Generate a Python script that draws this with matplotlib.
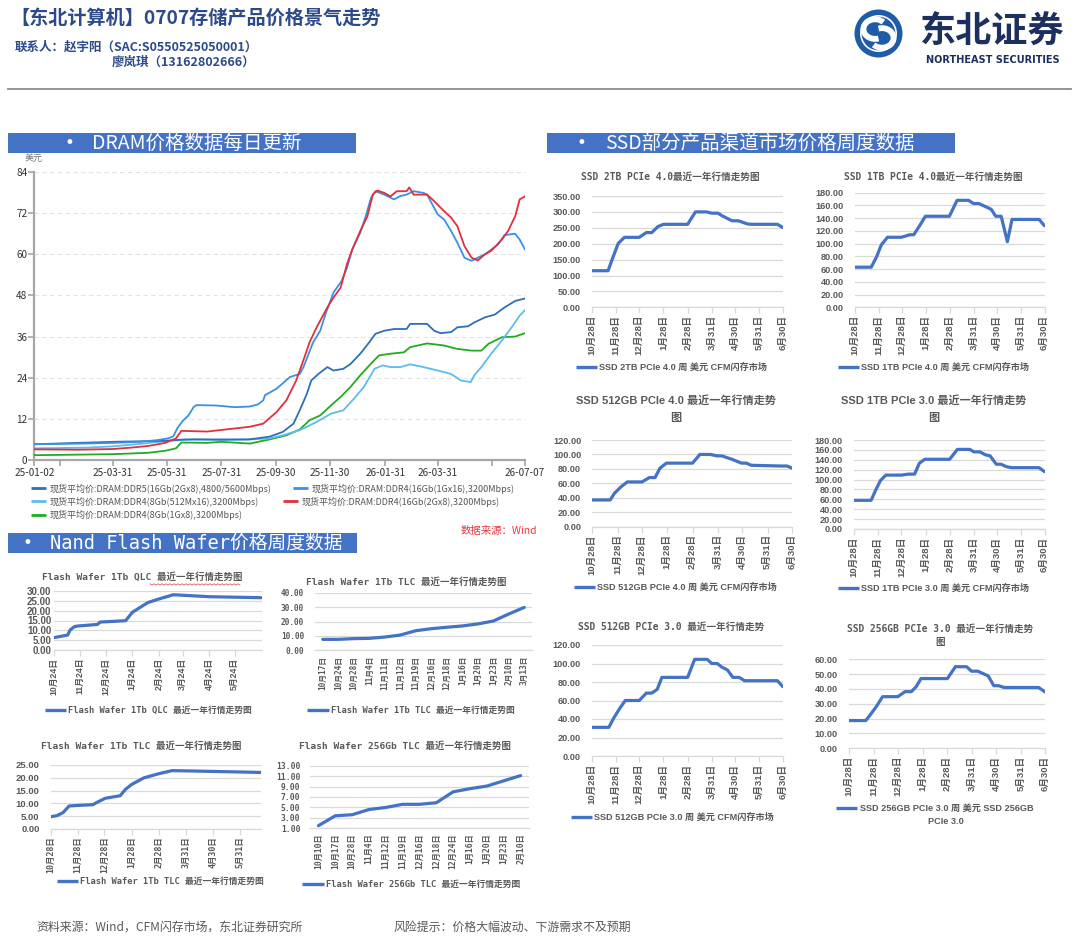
import numpy as np
import matplotlib
matplotlib.use('Agg')
import matplotlib.pyplot as plt
from matplotlib.lines import Line2D
from matplotlib.patches import Rectangle, Circle, Arc

W, H = 1080, 939
SANS = ['Noto Sans CJK SC', 'DejaVu Sans']
ARIAL = ['Liberation Sans', 'Noto Sans CJK SC']
MONO = ['DejaVu Sans Mono', 'Noto Sans CJK SC']
plt.rcParams['font.family'] = SANS
plt.rcParams['axes.unicode_minus'] = False

# ---------------------------------------------------------------- DRAM data
DRAM_LABELS = [
    '现货平均价:DRAM:DDR5(16Gb(2Gx8),4800/5600Mbps)',
    '现货平均价:DRAM:DDR4(16Gb(1Gx16),3200Mbps)',
    '现货平均价:DRAM:DDR4(8Gb(512Mx16),3200Mbps)',
    '现货平均价:DRAM:DDR4(16Gb(2Gx8),3200Mbps)',
    '现货平均价:DRAM:DDR4(8Gb(1Gx8),3200Mbps)',
]
DDR5_DATES = ['2025-01-02', '2025-03-31', '2025-05-29', '2025-06-20', '2025-07-31', '2025-08-31',
              '2025-09-23', '2025-10-08', '2025-10-20', '2025-10-27', '2025-11-04', '2025-11-09',
              '2025-11-17', '2025-11-27', '2025-12-04', '2025-12-15', '2025-12-23', '2026-01-03',
              '2026-01-13', '2026-01-20', '2026-01-30', '2026-02-10', '2026-02-24', '2026-02-28',
              '2026-03-19', '2026-03-27', '2026-04-03', '2026-04-15', '2026-04-22', '2026-05-04',
              '2026-05-11', '2026-05-23', '2026-06-03', '2026-06-14', '2026-06-26', '2026-07-07']
DDR5_VALS = [4.6, 5.3, 5.6, 6.0, 6.0, 6.0, 6.8, 8.2, 10.6, 14.5, 19.3, 23.2, 25.1, 27.1, 26.1, 26.6,
             28.0, 31.0, 34.3, 36.8, 37.7, 38.2, 38.2, 39.7, 39.7, 37.7, 37.0, 37.3, 38.7, 39.0,
             40.1, 41.6, 42.4, 44.5, 46.4, 47.1]

D4_1GX16_DATES = ['2025-01-02', '2025-03-01', '2025-04-01', '2025-05-01', '2025-05-20', '2025-06-01',
                  '2025-06-07', '2025-06-12', '2025-06-18', '2025-06-24', '2025-06-30', '2025-07-03',
                  '2025-07-25', '2025-08-15', '2025-09-01', '2025-09-10', '2025-09-16', '2025-09-18',
                  '2025-10-01', '2025-10-16', '2025-10-27', '2025-10-31', '2025-11-11', '2025-11-19',
                  '2025-11-25', '2025-12-04', '2025-12-13', '2025-12-19', '2025-12-25', '2026-01-03',
                  '2026-01-09', '2026-01-15', '2026-01-20', '2026-01-30', '2026-02-10', '2026-02-17',
                  '2026-02-24', '2026-03-04', '2026-03-15', '2026-03-19', '2026-03-25', '2026-03-31',
                  '2026-04-07', '2026-04-15', '2026-04-22', '2026-04-30', '2026-05-08', '2026-05-15',
                  '2026-05-23', '2026-06-07', '2026-06-14', '2026-06-26', '2026-07-01', '2026-07-07']
D4_1GX16_VALS = [4.6, 4.8, 5.0, 5.3, 5.8, 6.3, 6.9, 9.5, 11.5, 13.0, 15.5, 16.0, 15.9, 15.4, 15.6,
                 16.2, 17.4, 18.9, 20.8, 24.2, 25.1, 27.0, 34.3, 37.7, 42.6, 48.9, 52.2, 56.0, 61.4,
                 66.3, 71.0, 76.4, 78.4, 77.4, 76.0, 77.0, 77.4, 78.4, 77.9, 77.4, 74.5, 71.6, 70.2,
                 66.8, 63.4, 59.0, 58.1, 59.0, 60.0, 62.9, 65.6, 66.0, 64.3, 61.4]

D4_512M_DATES = ['2025-01-02', '2025-03-01', '2025-04-01', '2025-05-01', '2025-06-01', '2025-07-01',
                 '2025-08-01', '2025-09-01', '2025-09-23', '2025-10-08', '2025-10-27', '2025-11-15',
                 '2025-12-01', '2025-12-15', '2025-12-27', '2026-01-07', '2026-01-19', '2026-01-28',
                 '2026-02-06', '2026-02-17', '2026-02-28', '2026-03-15', '2026-03-31', '2026-04-15',
                 '2026-04-26', '2026-05-07', '2026-05-11', '2026-05-19', '2026-05-30', '2026-06-11',
                 '2026-06-22', '2026-07-01', '2026-07-07']
D4_512M_VALS = [3.4, 3.6, 4.0, 4.7, 5.6, 6.0, 5.8, 6.0, 6.3, 7.2, 8.7, 11.1, 13.5, 14.5, 17.9, 21.3,
                26.6, 27.6, 27.1, 27.1, 27.9, 27.1, 26.1, 25.1, 23.2, 22.7, 24.7, 27.1, 31.0, 34.8,
                38.7, 42.1, 43.7]

D4_2GX8_DATES = ['2025-01-02', '2025-02-20', '2025-03-31', '2025-04-20', '2025-05-10', '2025-05-29',
                 '2025-06-10', '2025-06-16', '2025-07-15', '2025-08-15', '2025-09-01', '2025-09-16',
                 '2025-10-01', '2025-10-12', '2025-10-23', '2025-10-31', '2025-11-07', '2025-11-15',
                 '2025-11-27', '2025-12-04', '2025-12-12', '2025-12-19', '2025-12-25', '2026-01-03',
                 '2026-01-11', '2026-01-17', '2026-01-22', '2026-01-30', '2026-02-06', '2026-02-13',
                 '2026-02-24', '2026-02-27', '2026-03-04', '2026-03-19', '2026-03-27', '2026-04-07',
                 '2026-04-15', '2026-04-22', '2026-04-30', '2026-05-08', '2026-05-15', '2026-05-23',
                 '2026-05-30', '2026-06-11', '2026-06-18', '2026-06-26', '2026-07-01', '2026-07-07']
D4_2GX8_VALS = [3.1, 3.0, 3.2, 3.6, 4.1, 5.0, 6.3, 8.5, 8.3, 9.2, 9.7, 10.6, 14.0, 17.4, 23.2, 29.0,
                34.3, 38.7, 44.5, 47.4, 50.3, 57.1, 61.4, 66.8, 71.1, 77.4, 78.6, 77.9, 76.9, 78.4,
                78.4, 79.5, 77.4, 77.4, 75.5, 72.6, 70.7, 68.2, 62.4, 59.0, 58.2, 60.0, 61.0, 64.3,
                66.8, 71.1, 76.0, 76.9]

D4_1GX8_DATES = ['2025-01-02', '2025-03-31', '2025-05-10', '2025-05-29', '2025-06-10', '2025-06-16',
                 '2025-07-15', '2025-07-31', '2025-08-25', '2025-09-01', '2025-09-23', '2025-10-12',
                 '2025-10-27', '2025-11-07', '2025-11-19', '2025-12-01', '2025-12-12', '2025-12-23',
                 '2026-01-03', '2026-01-15', '2026-01-24', '2026-02-06', '2026-02-21', '2026-02-28',
                 '2026-03-19', '2026-04-07', '2026-04-22', '2026-05-08', '2026-05-19', '2026-05-27',
                 '2026-06-11', '2026-06-26', '2026-07-07']
D4_1GX8_VALS = [1.4, 1.7, 2.1, 2.7, 3.4, 5.1, 5.0, 5.3, 4.9, 4.8, 6.0, 7.2, 8.9, 11.6, 13.0, 15.9,
                18.4, 21.3, 24.7, 28.1, 30.5, 31.0, 31.4, 32.9, 34.0, 33.4, 32.4, 31.9, 31.9, 33.9,
                35.8, 36.0, 37.0]

DRAM_COLORS = ['#2f6fb6', '#3a8fe6', '#5cbcf2', '#e0303a', '#22aa22']
DRAM_YTICKS = [0, 12, 24, 36, 48, 60, 72, 84]
DRAM_XTICKS = ['2025-01-02', '2025-01-31', '2025-03-31', '2025-05-31', '2025-07-31', '2025-09-30',
               '2025-11-30', '2026-01-31', '2026-03-31', '2026-05-31', '2026-07-07']
DRAM_XLABELS = ['25-01-02', '', '25-03-31', '25-05-31', '25-07-31', '25-09-30',
                '25-11-30', '26-01-31', '26-03-31', '', '26-07-07']

# ---------------------------------------------------------------- Nand Flash wafer data
QLC_1TB_DATES = ['2025-10-24', '2025-11-09', '2025-11-12', '2025-11-17', '2025-11-21', '2025-12-14',
                 '2025-12-17', '2026-01-16', '2026-01-24', '2026-02-11', '2026-02-23', '2026-03-13',
                 '2026-04-24', '2026-06-24']
QLC_1TB_VALS = [6.3, 7.6, 10.2, 11.9, 12.2, 13.0, 14.2, 14.9, 19.2, 24.1, 25.8, 28.1, 27.1, 26.6]
QLC_TICKS = ['2025-10-24', '2025-11-24', '2025-12-24', '2026-01-24', '2026-02-24', '2026-03-24',
             '2026-04-24', '2026-05-24']

TLC_1TB_CATS = ['10月17日', '10月24日', '10月28日', '11月4日', '11月11日', '11月12日', '11月19日',
                '12月16日', '12月18日', '1月16日', '1月20日', '1月23日', '2月10日', '3月13日']
TLC_1TB_VALS = [7.6, 7.6, 8.1, 8.3, 9.2, 10.6, 13.6, 15.0, 16.0, 16.9, 18.3, 20.3, 25.2, 29.8]

TLC_1TB_B_DATES = ['2025-10-28', '2025-11-04', '2025-11-11', '2025-11-18', '2025-11-28', '2025-12-15',
                   '2025-12-19', '2025-12-29', '2026-01-15', '2026-01-21', '2026-01-28', '2026-02-11',
                   '2026-03-01', '2026-03-15', '2026-04-01', '2026-06-24']
TLC_1TB_B_VALS = [4.8, 5.2, 6.4, 9.0, 9.2, 9.5, 10.3, 12.0, 13.0, 15.5, 17.4, 20.0, 21.7, 22.8, 22.7, 22.1]
TLC_B_TICKS = ['2025-10-28', '2025-11-28', '2025-12-28', '2026-01-28', '2026-02-28', '2026-03-31',
               '2026-04-30', '2026-05-31']

TLC_256_CATS = ['10月10日', '10月17日', '10月28日', '11月4日', '11月12日', '11月19日', '12月16日',
                '12月18日', '12月24日', '1月16日', '1月20日', '1月23日', '2月10日']
TLC_256_VALS = [1.5, 3.4, 3.6, 4.6, 5.0, 5.6, 5.6, 5.9, 8.0, 8.6, 9.1, 10.1, 11.1]

# ---------------------------------------------------------------- SSD data
SSD_TICKS = ['2025-10-28', '2025-11-28', '2025-12-28', '2026-01-28', '2026-02-28', '2026-03-31',
             '2026-04-30', '2026-05-31', '2026-06-30']

SSD_2TB_P4_DATES = ['2025-10-28', '2025-11-18', '2025-11-23', '2025-12-01', '2025-12-09', '2025-12-28',
                    '2026-01-06', '2026-01-13', '2026-01-21', '2026-01-28', '2026-02-28', '2026-03-10',
                    '2026-03-24', '2026-03-31', '2026-04-08', '2026-04-13', '2026-04-26', '2026-05-04',
                    '2026-05-16', '2026-05-21', '2026-06-23', '2026-06-30']
SSD_2TB_P4_VALS = [115, 115, 149, 201, 220, 220, 235, 235, 254, 261, 261, 300, 300, 296, 296, 288,
                   272, 272, 262, 261, 261, 251]

SSD_1TB_P4_DATES = ['2025-10-28', '2025-11-18', '2025-11-25', '2025-12-01', '2025-12-09', '2025-12-27',
                    '2026-01-07', '2026-01-12', '2026-01-20', '2026-01-27', '2026-02-27', '2026-03-09',
                    '2026-03-24', '2026-03-30', '2026-04-06', '2026-04-15', '2026-04-22', '2026-04-28',
                    '2026-05-05', '2026-05-13', '2026-05-19', '2026-06-23', '2026-06-30']
SSD_1TB_P4_VALS = [63, 63, 79.5, 98, 110, 110, 114, 114, 129, 143, 143, 168, 168, 163, 163, 158, 154,
                   143, 143, 103, 138, 138, 128]

SSD_512_P4_DATES = ['2025-10-28', '2025-11-19', '2025-11-24', '2025-12-02', '2025-12-10', '2025-12-28',
                    '2026-01-06', '2026-01-13', '2026-01-19', '2026-01-27', '2026-02-28', '2026-03-09',
                    '2026-03-22', '2026-03-30', '2026-04-05', '2026-04-18', '2026-04-29', '2026-05-05',
                    '2026-05-11', '2026-06-16', '2026-06-24', '2026-06-30']
SSD_512_P4_VALS = [37, 37, 46, 55, 62, 62, 68, 68, 81, 88, 88, 100, 100, 98, 98, 93, 88, 88, 85, 84, 84, 81]

SSD_1TB_P3_DATES = ['2025-10-28', '2025-11-19', '2025-11-25', '2025-12-01', '2025-12-08', '2025-12-28',
                    '2026-01-06', '2026-01-14', '2026-01-20', '2026-01-27', '2026-02-28', '2026-03-10',
                    '2026-03-26', '2026-03-31', '2026-04-08', '2026-04-15', '2026-04-21', '2026-04-29',
                    '2026-05-05', '2026-05-12', '2026-05-19', '2026-06-23', '2026-06-30']
SSD_1TB_P3_VALS = [58, 58, 79, 98, 109, 109, 111, 111, 133, 141, 141, 161, 161, 156, 156, 150, 148,
                   131, 131, 126, 124, 124, 116]

SSD_512_P3_DATES = ['2025-10-28', '2025-11-19', '2025-11-25', '2025-12-03', '2025-12-10', '2025-12-28',
                    '2026-01-06', '2026-01-13', '2026-01-20', '2026-01-26', '2026-02-28', '2026-03-09',
                    '2026-03-25', '2026-03-31', '2026-04-07', '2026-04-13', '2026-04-20', '2026-04-27',
                    '2026-05-05', '2026-05-12', '2026-06-23', '2026-06-30']
SSD_512_P3_VALS = [31, 31, 40.7, 51.5, 60, 60, 68, 68, 72, 85, 85, 104.5, 104.5, 100, 100, 96, 93, 85,
                   85, 81.4, 81.4, 75]

SSD_256_P3_DATES = ['2025-10-28', '2025-11-18', '2025-11-25', '2025-12-01', '2025-12-09', '2025-12-28',
                    '2026-01-06', '2026-01-14', '2026-01-20', '2026-01-26', '2026-02-28', '2026-03-10',
                    '2026-03-24', '2026-03-30', '2026-04-07', '2026-04-15', '2026-04-20', '2026-04-27',
                    '2026-05-03', '2026-05-10', '2026-06-22', '2026-06-30']
SSD_256_P3_VALS = [18.7, 18.7, 23.6, 28, 34.8, 34.8, 38.2, 38.2, 41.6, 47, 47, 55, 55, 52, 52, 50,
                   48.8, 42.2, 42.2, 41, 41, 38]

LINE_BLUE = '#4472C4'
GRAY_TXT = '#595959'
GRID = '#d9d9d9'

# ---------------------------------------------------------------- helpers
fig = plt.figure(figsize=(W / 100, H / 100), dpi=100)
fig.patch.set_facecolor('white')


def ax_px(x0, y0, x1, y1):
    return fig.add_axes([x0 / W, 1 - y1 / H, (x1 - x0) / W, (y1 - y0) / H])


def ftext(x, y, s, **kw):
    return fig.text(x / W, 1 - y / H, s, **kw)


def fline(xs, ys, **kw):
    fig.add_artist(Line2D([x / W for x in xs], [1 - y / H for y in ys],
                          transform=fig.transFigure, **kw))


def d64(lst):
    return np.array(lst, dtype='datetime64[D]')


def md_label(s):
    _, m, d = s.split('-')
    return f'{int(m)}月{int(d)}日'


def section(x0, x1, y0, y1, bx, tx, text, fam, fs):
    fig.add_artist(Rectangle((x0 / W, 1 - y1 / H), (x1 - x0) / W, (y1 - y0) / H,
                             transform=fig.transFigure, facecolor='#4472C4', edgecolor='none'))
    ym = (y0 + y1) / 2
    ftext(bx, ym + 0.5, '•', color='white', fontsize=12, ha='center', va='center', family='DejaVu Sans')
    ftext(tx, ym, text, color='white', fontsize=fs, ha='left', va='center', family=fam)


def small_legend(x0, x1, y, tx, text, fam, fs):
    fline([x0, x1], [y, y], color=LINE_BLUE, lw=2.4, solid_capstyle='butt')
    ftext(tx, y, text, family=fam, fontsize=fs, weight='bold', color=GRAY_TXT, ha='left', va='center')


def excel_chart(rect, x, y, ylim, ystep, yfam, yfs, ypad, xticks, xlabels, xfam, xfs, xlim, tickmarks):
    ax = ax_px(*rect)
    ax.patch.set_alpha(0)
    ax.plot(x, y, color=LINE_BLUE, lw=2.3, solid_joinstyle='round', solid_capstyle='round', zorder=3)
    yt = np.arange(ylim[0], ylim[1] + ystep * 0.01, ystep)
    ax.set_ylim(*ylim)
    ax.set_yticks(yt)
    ax.set_yticklabels([f'{v:.2f}' for v in yt], family=yfam, fontsize=yfs, weight='bold', color=GRAY_TXT)
    ax.set_xlim(*xlim)
    ax.set_xticks(xticks)
    ax.set_xticklabels(xlabels, rotation=90, family=xfam, fontsize=xfs, weight='bold', color=GRAY_TXT,
                       ha='center', va='top')
    ax.grid(axis='y', color=GRID, lw=0.9)
    ax.grid(axis='x', visible=False)
    ax.set_axisbelow(True)
    for s in ('top', 'right', 'left'):
        ax.spines[s].set_visible(False)
    ax.spines['bottom'].set_color(GRID)
    ax.spines['bottom'].set_linewidth(0.9)
    ax.tick_params(axis='y', length=0, pad=ypad)
    ax.tick_params(axis='x', length=4 if tickmarks else 0, color=GRID, width=0.9,
                   pad=1.5 if tickmarks else 4)
    return ax


# ---------------------------------------------------------------- header
HEAD_BLUE = '#2c4a8a'
ftext(10, 18, '【东北计算机】0707存储产品价格景气走势', fontsize=13.8, weight='bold', color=HEAD_BLUE,
      ha='left', va='center')
ftext(15, 47.5, '联系人：赵宇阳（SAC:S0550525050001）', fontsize=9, weight='bold', color=HEAD_BLUE,
      ha='left', va='center')
ftext(112, 61.7, '廖岚琪（13162802666）', fontsize=9, weight='bold', color=HEAD_BLUE, ha='left', va='center')
fline([8, 1071], [89, 89], color='#8c8c8c', lw=1.3)

# logo
lax = ax_px(854, 9, 903, 58)
lax.set_xlim(-1, 1)
lax.set_ylim(-1, 1)
lax.axis('off')
lax.add_patch(Circle((0, 0), 0.98, facecolor='#1e5ca8', edgecolor='none'))
lax.add_patch(Circle((0, 0), 0.72, facecolor='none', edgecolor='white', lw=1.2))
lax.add_patch(Arc((-0.14, 0.18), 0.95, 0.8, theta1=40, theta2=290, color='white', lw=4.2))
lax.add_patch(Arc((0.14, -0.18), 0.95, 0.8, theta1=220, theta2=470, color='white', lw=4.2))
ftext(992, 31, '东北证券', fontsize=26, weight='bold', color='#1c2f5e', ha='center', va='center')
ftext(993, 60, 'NORTHEAST SECURITIES', fontsize=7, weight='bold', color='#1c2f5e', ha='center',
      va='center', family='DejaVu Sans')

# ---------------------------------------------------------------- section bars
section(8, 356, 133, 153, 69, 92, 'DRAM价格数据每日更新', SANS, 14)
section(547, 955, 133, 153, 581, 605, 'SSD部分产品渠道市场价格周度数据', SANS, 14)
section(8, 357, 533, 553, 27, 50, 'Nand Flash Wafer价格周度数据', MONO, 13.5)

# ---------------------------------------------------------------- DRAM chart
ax = ax_px(34.4, 172, 525, 460)
ax.patch.set_alpha(0)
dram_series = [(DDR5_DATES, DDR5_VALS), (D4_1GX16_DATES, D4_1GX16_VALS), (D4_512M_DATES, D4_512M_VALS),
               (D4_2GX8_DATES, D4_2GX8_VALS), (D4_1GX8_DATES, D4_1GX8_VALS)]
draw_order = [4, 2, 0, 1, 3]
for i in draw_order:
    dts, vals = dram_series[i]
    ax.plot(d64(dts), vals, color=DRAM_COLORS[i], lw=1.3, zorder=3)
ax.set_ylim(0, 84)
ax.set_yticks(DRAM_YTICKS)
ax.set_xlim(np.datetime64('2025-01-02'), np.datetime64('2026-07-07'))
ax.set_xticks(d64(DRAM_XTICKS))
ax.set_xticklabels(DRAM_XLABELS)
ax.grid(axis='y', color='#e2e2e2', lw=0.8, ls=(0, (4, 3)))
ax.grid(axis='x', visible=False)
ax.set_axisbelow(True)
for s in ('top', 'right'):
    ax.spines[s].set_visible(False)
for s in ('left', 'bottom'):
    ax.spines[s].set_color('#a6a6a6')
    ax.spines[s].set_linewidth(1.6)
ax.tick_params(axis='both', color='#a6a6a6', labelcolor='#333333', labelsize=7.2, length=4, width=1.2)
ax.tick_params(axis='y', pad=1)
ax.tick_params(axis='x', pad=1.5)
ftext(34, 158.5, '美元', fontsize=6.5, color='#777777', ha='center', va='center')

# DRAM legend rows
leg_rows = [[(31, 0), (293, 1)], [(31, 2), (283, 3)], [(31, 4)]]
leg_y = [488.5, 501.5, 515]
for row, yy in zip(leg_rows, leg_y):
    for lx, idx in row:
        fline([lx, lx + 15], [yy, yy], color=DRAM_COLORS[idx], lw=2.0, solid_capstyle='butt')
        ftext(lx + 19, yy, DRAM_LABELS[idx], fontsize=6.5, color='#555555', ha='left', va='center')
ftext(537, 531, '数据来源：Wind', fontsize=7.5, color='#e8383d', ha='right', va='center')

# ---------------------------------------------------------------- Nand flash charts
# A : 1Tb QLC
excel_chart((54, 591, 262, 650), d64(QLC_1TB_DATES), QLC_1TB_VALS, (0, 30), 5, ARIAL, 7, 2,
            d64(QLC_TICKS), [md_label(s) for s in QLC_TICKS], ARIAL, 6.3,
            (np.datetime64('2025-10-24'), np.datetime64('2026-06-25')), True)
ftext(142.5, 576.5, 'Flash Wafer 1Tb QLC 最近一年行情走势图', family=MONO, fontsize=6.8, weight='bold',
      color=GRAY_TXT, ha='center', va='center')
zx = np.arange(150, 242, 2.0)
fline(list(zx), [584 + (1.0 if k % 2 else -0.2) for k in range(len(zx))], color='#e06060', lw=0.6)
small_legend(45, 66, 710, 68, 'Flash Wafer 1Tb QLC 最近一年行情走势图', MONO, 6.3)

# B : 1Tb TLC (categorical)
nb = len(TLC_1TB_CATS)
excel_chart((315, 592.7, 532, 650.3), np.arange(nb), TLC_1TB_VALS, (0, 40), 10, MONO, 5.6, 8,
            np.arange(nb), TLC_1TB_CATS, MONO, 5.6, (-0.5, nb - 0.5), False)
ftext(406, 581.5, 'Flash Wafer 1Tb TLC 最近一年行情走势图', family=MONO, fontsize=6.8, weight='bold',
      color=GRAY_TXT, ha='center', va='center')
small_legend(307, 329, 710, 331, 'Flash Wafer 1Tb TLC 最近一年行情走势图', MONO, 6.3)

# C : 1Tb TLC (dates)
excel_chart((50.7, 765, 261, 829), d64(TLC_1TB_B_DATES), TLC_1TB_B_VALS, (0, 25), 5, ARIAL, 6.8, 8,
            d64(TLC_B_TICKS), [md_label(s) for s in TLC_B_TICKS], MONO, 6.0,
            (np.datetime64('2025-10-28'), np.datetime64('2026-06-24')), True)
ftext(141.5, 746, 'Flash Wafer 1Tb TLC 最近一年行情走势图', family=MONO, fontsize=6.8, weight='bold',
      color=GRAY_TXT, ha='center', va='center')
small_legend(57, 78, 881, 80, 'Flash Wafer 1Tb TLC 最近一年行情走势图', MONO, 6.3)

# D : 256Gb TLC (categorical)
nd = len(TLC_256_CATS)
excel_chart((310, 765.7, 529, 828.3), np.arange(nd), TLC_256_VALS, (1, 13), 2, MONO, 5.8, 7,
            np.arange(nd), TLC_256_CATS, MONO, 5.8, (-0.5, nd - 0.5), False)
ftext(405, 746, 'Flash Wafer 256Gb TLC 最近一年行情走势图', family=MONO, fontsize=6.8, weight='bold',
      color=GRAY_TXT, ha='center', va='center')
small_legend(302, 324, 884, 326, 'Flash Wafer 256Gb TLC 最近一年行情走势图', MONO, 6.3)

# ---------------------------------------------------------------- SSD charts
ssd_xlim = (np.datetime64('2025-10-28'), np.datetime64('2026-06-30'))
ssd_tick_labels = [md_label(s) for s in SSD_TICKS]
ssd_specs = [
    ((591.7, 196, 782.8, 307.3), SSD_2TB_P4_DATES, SSD_2TB_P4_VALS, (0, 350), 50),
    ((855, 192.7, 1044.5, 307.3), SSD_1TB_P4_DATES, SSD_1TB_P4_VALS, (0, 180), 20),
    ((592.3, 440, 792, 526.7), SSD_512_P4_DATES, SSD_512_P4_VALS, (0, 120), 20),
    ((854, 440, 1044.5, 529), SSD_1TB_P3_DATES, SSD_1TB_P3_VALS, (0, 180), 20),
    ((591.7, 645, 782.8, 756), SSD_512_P3_DATES, SSD_512_P3_VALS, (0, 120), 20),
    ((849, 659.3, 1045, 748.3), SSD_256_P3_DATES, SSD_256_P3_VALS, (0, 60), 10),
]
for rect, dts, vals, yl, st in ssd_specs:
    excel_chart(rect, d64(dts), vals, yl, st, ARIAL, 6.6, 8, d64(SSD_TICKS), ssd_tick_labels, ARIAL, 6.8,
                ssd_xlim, True)

# SSD titles
ftext(670, 176.7, 'SSD 2TB PCIe 4.0最近一年行情走势图', family=MONO, fontsize=6.9, weight='bold',
      color=GRAY_TXT, ha='center', va='center')
ftext(933, 177, 'SSD 1TB PCIe 4.0最近一年行情走势图', family=MONO, fontsize=6.9, weight='bold',
      color=GRAY_TXT, ha='center', va='center')
ftext(675.5, 400, 'SSD 512GB PCIe 4.0 最近一年行情走势', family=ARIAL, fontsize=8, weight='bold',
      color=GRAY_TXT, ha='center', va='center')
ftext(675.5, 418, '图', family=ARIAL, fontsize=8, weight='bold', color=GRAY_TXT, ha='center', va='center')
ftext(933.5, 400, 'SSD 1TB PCIe 3.0 最近一年行情走势', family=ARIAL, fontsize=8, weight='bold',
      color=GRAY_TXT, ha='center', va='center')
ftext(933.5, 418, '图', family=ARIAL, fontsize=8, weight='bold', color=GRAY_TXT, ha='center', va='center')
ftext(670.7, 626.7, 'SSD 512GB PCIe 3.0 最近一年行情走势', family=MONO, fontsize=6.9, weight='bold',
      color=GRAY_TXT, ha='center', va='center')
ftext(940, 629, 'SSD 256GB PCIe 3.0 最近一年行情走势', family=MONO, fontsize=6.9, weight='bold',
      color=GRAY_TXT, ha='center', va='center')
ftext(940, 642, '图', family=MONO, fontsize=6.9, weight='bold', color=GRAY_TXT, ha='center', va='center')

# SSD legends
small_legend(576, 597, 367, 599, 'SSD 2TB PCIe 4.0 周 美元 CFM闪存市场', ARIAL, 6.6)
small_legend(838, 859, 367, 861, 'SSD 1TB PCIe 4.0 周 美元 CFM闪存市场', ARIAL, 6.6)
small_legend(574, 595, 586.7, 597, 'SSD 512GB PCIe 4.0 周 美元 CFM闪存市场', ARIAL, 6.6)
small_legend(838, 859, 588, 861, 'SSD 1TB PCIe 3.0 周 美元 CFM闪存市场', ARIAL, 6.6)
small_legend(571, 592, 816.7, 594, 'SSD 512GB PCIe 3.0 周 美元 CFM闪存市场', ARIAL, 6.6)
small_legend(836, 857, 808, 860, 'SSD 256GB PCIe 3.0 周 美元 SSD 256GB', ARIAL, 6.6)
ftext(946, 821, 'PCIe 3.0', family=ARIAL, fontsize=6.6, weight='bold', color=GRAY_TXT, ha='center',
      va='center')

# ---------------------------------------------------------------- footer
ftext(36, 927, '资料来源：Wind，CFM闪存市场，东北证券研究所', fontsize=8.6, color=GRAY_TXT, ha='left',
      va='center')
ftext(393, 927, '风险提示：价格大幅波动、下游需求不及预期', fontsize=8.6, color=GRAY_TXT, ha='left',
      va='center')

fig.savefig('out.png', dpi=100, facecolor='white')
